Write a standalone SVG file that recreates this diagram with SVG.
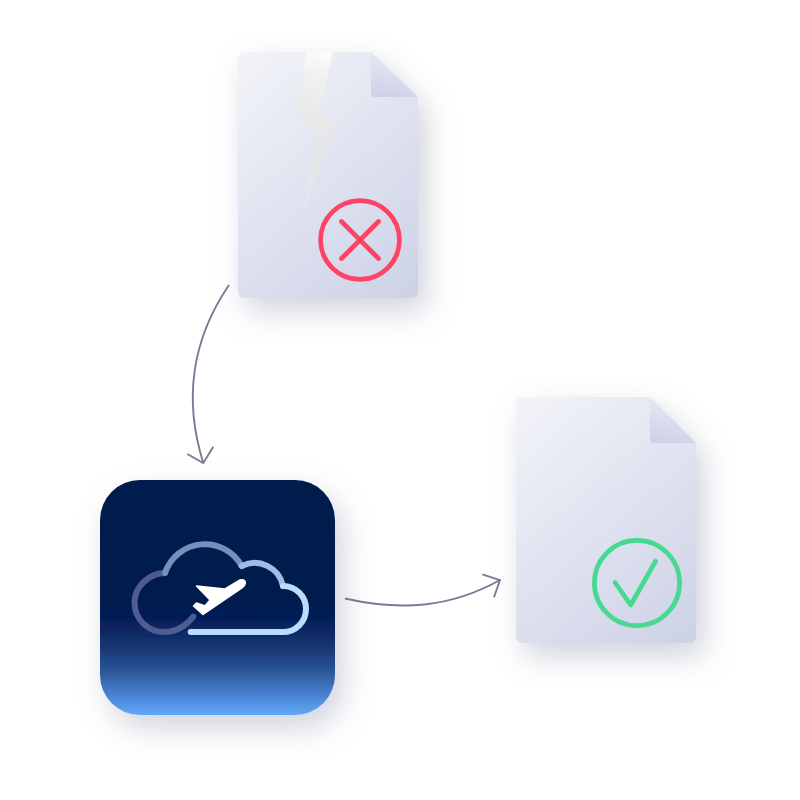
<svg xmlns="http://www.w3.org/2000/svg" width="800" height="800" viewBox="0 0 800 800">
<style>
.conn{fill:none;stroke:#7a7a96;stroke-width:1.900}
.cloud{fill:none;stroke-width:6;stroke-linecap:round}
.mark{fill:none;stroke-width:4.700;stroke-linecap:round;stroke-linejoin:round}
</style>
<defs>
<linearGradient id="doc" x1="0" y1="0" x2="0.74" y2="1.165"><stop offset="0" stop-color="#f3f4f9"/><stop offset="1" stop-color="#ccd1e6"/></linearGradient>
<linearGradient id="fold" x1="0.6" y1="0" x2="0.4" y2="1"><stop offset="0" stop-color="#e8eaf4"/><stop offset="1" stop-color="#cdd2e8"/></linearGradient>
<linearGradient id="tile" x1="0" y1="0" x2="0" y2="1"><stop offset="0" stop-color="#001a4e"/><stop offset="0.5" stop-color="#001a4e"/><stop offset="0.6" stop-color="#06205a"/><stop offset="0.7" stop-color="#15346e"/><stop offset="0.81" stop-color="#2b5497"/><stop offset="0.936" stop-color="#508bdc"/><stop offset="1" stop-color="#64a8fa"/></linearGradient>
<linearGradient id="gap" gradientUnits="userSpaceOnUse" x1="328" y1="50" x2="306" y2="140"><stop offset="0" stop-color="#fdfdfd"/><stop offset="0.3" stop-color="#f1f1f2"/><stop offset="0.7" stop-color="#e9e9ea"/><stop offset="1" stop-color="#e5e6e9"/></linearGradient>
<filter id="sh" filterUnits="userSpaceOnUse" x="0" y="0" width="800" height="800"><feDropShadow dx="8" dy="13" stdDeviation="15" flood-color="#6f7896" flood-opacity="0.32"/></filter>
</defs>
<rect width="800" height="800" fill="#fff"/>
<g id="broken-file">
<path filter="url(#sh)" fill="url(#doc)" d="M244 52H371L418 97V292a6 6 0 0 1-6 6H244a6 6 0 0 1-6-6V58a6 6 0 0 1 6-6Z"/>
<path fill="url(#gap)" d="M306 52L297.300 113L313 133L303 212L334.700 128L319 110.700L333 52Z"/>
<path fill="url(#fold)" d="M371 52L418 97H375a4 4 0 0 1-4-4Z"/>
<circle class="mark" cx="360" cy="240" r="39.400" stroke="#ff4365"/>
<path class="mark" stroke="#ff4365" d="M341.500 221.500L378.500 258.500M378.500 221.500L341.500 258.500"/>
</g>
<g id="cloud-app">
<rect filter="url(#sh)" x="100" y="480" width="235" height="235" rx="40" fill="url(#tile)"/>
<path class="cloud" stroke="#4f5c92" d="M165 573C150 573 134.500 586 134.500 602.500C134.500 620 149 632 164 632C176 632 186 626 193.300 616.700"/>
<path class="cloud" stroke="#7390bf" d="M165 573A42 42 0 0 1 241.700 566"/>
<path class="cloud" stroke="#9ebde6" d="M241.700 566A29 29 0 0 1 283 586"/>
<path class="cloud" stroke="#b9ddfc" d="M283 586A23 23 0 0 1 283 632H190.700"/>
<path fill="#fff" stroke="#fff" stroke-width="1.500" stroke-linejoin="round" d="M196.500 586L225 589L240 580Q245 579 245.500 583Q245 586 242 588L203 614.500L193.500 606L196.500 603L205 606L210 600Z"/>
</g>
<g id="valid-file">
<path filter="url(#sh)" fill="url(#doc)" d="M522 397H650L696 443V637a6 6 0 0 1-6 6H522a6 6 0 0 1-6-6V403a6 6 0 0 1 6-6Z"/>
<path fill="url(#fold)" d="M650 397L696 443H654a4 4 0 0 1-4-4Z"/>
<circle class="mark" cx="637" cy="583" r="42.600" stroke="#46d98f"/>
<path class="mark" stroke="#46d98f" d="M615 582.500L630.700 605L655.700 561"/>
</g>
<g id="connectors">
<path class="conn" d="M229 285C195 335 182 395 203.300 463"/>
<path class="conn" d="M187.300 454L203.300 463L213.300 446.700"/>
<path class="conn" d="M345 598.500C400 611 450 608 500 580"/>
<path class="conn" d="M482.300 574.300L500 580L494 597.300"/>
</g>
</svg>
